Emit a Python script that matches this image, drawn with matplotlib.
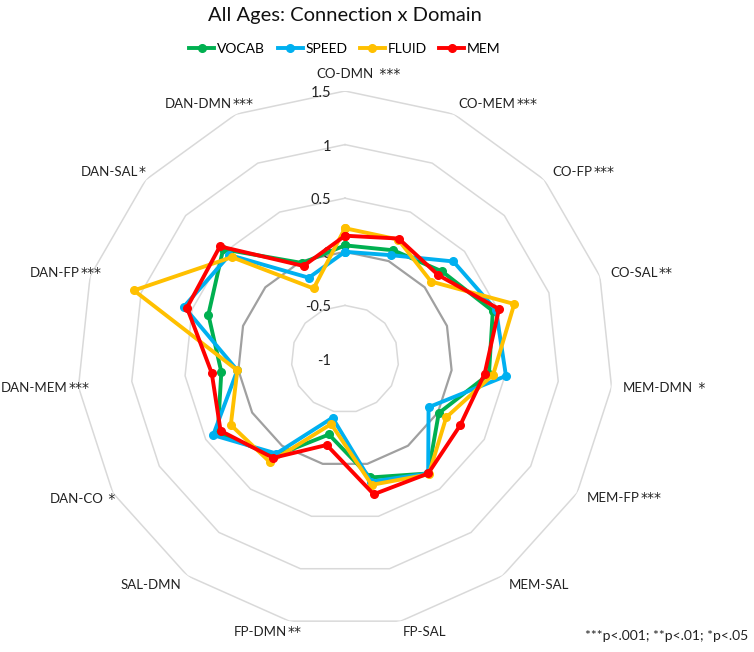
import numpy as np
import matplotlib.pyplot as plt

plt.rcParams['font.family'] = ['Lato', 'DejaVu Sans']

categories = ['CO-DMN', 'CO-MEM', 'CO-FP', 'CO-SAL', 'MEM-DMN', 'MEM-FP', 'MEM-SAL',
              'FP-SAL', 'FP-DMN', 'SAL-DMN', 'DAN-CO', 'DAN-MEM', 'DAN-FP', 'DAN-SAL', 'DAN-DMN']
stars = [' ***', '***', '***', '**', ' *', '***', '', '', '**', '', ' *', '***', '***', '*', '***']

vocab = [0.06, 0.11, 0.22, 0.45, 0.35, 0.01, 0.32, 0.13, -0.28, 0.12, 0.37, 0.16, 0.34, 0.53, -0.02]
speed = [0.00, 0.06, 0.36, 0.48, 0.51, -0.10, 0.32, 0.17, -0.44, 0.09, 0.42, 0.01, 0.58, 0.45, -0.17]
fluid = [0.22, 0.22, 0.08, 0.66, 0.39, 0.09, 0.33, 0.20, -0.38, 0.19, 0.23, 0.01, 1.07, 0.42, -0.28]
mem = [0.15, 0.23, 0.17, 0.51, 0.31, 0.24, 0.32, 0.29, -0.18, 0.14, 0.34, 0.25, 0.55, 0.57, -0.05]

series = {'VOCAB': vocab, 'SPEED': speed, 'FLUID': fluid, 'MEM': mem}
colors = {'VOCAB': '#00B050', 'SPEED': '#00B0F0', 'FLUID': '#FFC000', 'MEM': '#FF0000'}

levels = [-0.5, 0, 0.5, 1, 1.5]
rmin, rmax = -1, 1.5

W, H = 754, 652
cx, cy, R = 345, 359, 268

fig = plt.figure(figsize=(W / 100, H / 100), dpi=100)
ax = fig.add_axes([(cx - R) / W, (H - cy - R) / H, 2 * R / W, 2 * R / H], projection='polar')
ax.set_theta_offset(np.pi / 2)
ax.set_theta_direction(-1)
ax.set_ylim(rmin, rmax)
ax.grid(False)
ax.set_xticks([])
ax.set_yticks([])
ax.spines['polar'].set_visible(False)

n = len(categories)
angles = np.arange(n) * 2 * np.pi / n
closed = np.append(angles, angles[0])

# polygon grid, the zero ring darker
for lv in levels:
    if lv == 0:
        ax.plot(closed, [lv] * (n + 1), color='#A0A0A0', lw=1.6, zorder=1)
    else:
        ax.plot(closed, [lv] * (n + 1), color='#D9D9D9', lw=1.1, zorder=1)

# radial value labels
for lv in [rmin] + levels:
    ax.annotate(f'{lv:g}', xy=(0, lv), xytext=(-14, -2), textcoords='offset pixels',
                ha='right', va='center', fontsize=10.5, color='#222222')

for name, vals in series.items():
    ax.plot(closed, vals + [vals[0]], color=colors[name], lw=2.8, marker='o',
            markersize=5.5, label=name, zorder=3, clip_on=False)

# category labels + significance stars
for ang, cat, st in zip(angles, categories, stars):
    s, c = np.sin(ang), np.cos(ang)
    if s > 0.05:
        ha = 'left'
    elif s < -0.05:
        ha = 'right'
    else:
        ha = 'center'
    va = 'bottom' if abs(s) < 0.05 else 'center'
    t = ax.annotate(cat, xy=(ang, rmax), xytext=(11 * s, 11 * c), textcoords='offset pixels',
                    ha=ha, va=va, fontsize=9.5, color='#222222')
    if st:
        ax.annotate(st, xy=(1, 0.5), xycoords=t, xytext=(1, 0), textcoords='offset pixels',
                    ha='left', va='center', fontsize=10, color='#222222',
                    family=['DejaVu Sans'])

fig.text(345 / W, 1 - 16 / H, 'All Ages: Connection x Domain', ha='center', va='center',
         fontsize=14.5, color='#111111')

fig.legend(loc='center', bbox_to_anchor=(345 / W, 1 - 49 / H), ncol=4, frameon=False,
           fontsize=10, handlelength=1.8, handletextpad=0.2, columnspacing=0.9)

fig.text(748 / W, 1 - 636 / H, '***p<.001; **p<.01; *p<.05', ha='right', va='center',
         fontsize=10, color='#222222')

fig.savefig('out.png', dpi=100)
